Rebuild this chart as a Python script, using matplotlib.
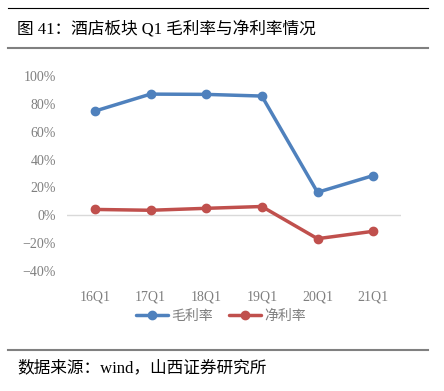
import matplotlib
matplotlib.use("Agg")
import matplotlib.pyplot as plt
from matplotlib.lines import Line2D

categories = ["16Q1", "17Q1", "18Q1", "19Q1", "20Q1", "21Q1"]
gross_margin = [74.8, 87.0, 86.8, 85.6, 16.5, 28.5]
net_margin = [4.2, 3.6, 5.0, 6.3, -16.8, -11.5]
yticks = [-40, -20, 0, 20, 40, 60, 80, 100]
series_names = ["毛利率", "净利率"]
title = "图 41：酒店板块 Q1 毛利率与净利率情况"
source = "数据来源：wind，山西证券研究所"

W, H = 444, 391
fig = plt.figure(figsize=(W / 100, H / 100), dpi=100)
cjk = ["Noto Sans CJK SC", "DejaVu Sans"]
mixed = ["Liberation Serif", "Noto Sans CJK SC"]

def fx(px):
    return px / W

def fy(py):
    return 1 - py / H

# header / footer rules
fig.add_artist(Line2D([fx(8), fx(428)], [fy(8), fy(8)], color="black", lw=0.8))
fig.add_artist(Line2D([fx(8), fx(428)], [fy(48), fy(48)], color="#808080", lw=1.5))
fig.add_artist(Line2D([fx(8), fx(428)], [fy(350), fy(350)], color="#808080", lw=1.5))
fig.text(fx(17), fy(29), title, family=mixed, fontsize=12.0, va="center", ha="left", color="black")
fig.text(fx(17), fy(368), source, family=mixed, fontsize=12.0, va="center", ha="left", color="black")

# axes: 100% at y=76, -40% at y=271; categories from x=67 to 401
ax = fig.add_axes([fx(67), fy(271), fx(401) - fx(67), (271 - 76) / H])
x = list(range(len(categories)))
blue = "#4F81BD"
red = "#C0504D"
ax.plot(x, gross_margin, color=blue, lw=2.5, marker="o", ms=6, label=series_names[0], solid_capstyle="round")
ax.plot(x, net_margin, color=red, lw=2.5, marker="o", ms=6, label=series_names[1], solid_capstyle="round")
ax.axhline(0, color="#D9D9D9", lw=1, zorder=0)
ax.set_xlim(-0.5, len(categories) - 0.5)
ax.set_ylim(-40, 100)
ax.set_yticks(yticks)
ax.set_yticklabels([f"{v}%".replace("-", "\u2212") for v in yticks])
ax.set_xticks(x)
ax.set_xticklabels(categories)
ax.tick_params(length=0, pad=14)
ax.tick_params(axis="y", pad=8)
for lab in ax.get_xticklabels() + ax.get_yticklabels():
    lab.set_fontfamily("Liberation Serif")
    lab.set_fontsize(10)
    lab.set_color("#7F7F7F")
for s in ax.spines.values():
    s.set_visible(False)
ax.set_facecolor("none")

leg = fig.legend(loc="center", bbox_to_anchor=(fx(221), fy(316)), ncol=2, frameon=False,
                 prop={"family": cjk, "size": 10}, handlelength=2.3, columnspacing=1.2,
                 handletextpad=0.2)
for t in leg.get_texts():
    t.set_color("#7F7F7F")

fig.savefig("out.png", dpi=100)
